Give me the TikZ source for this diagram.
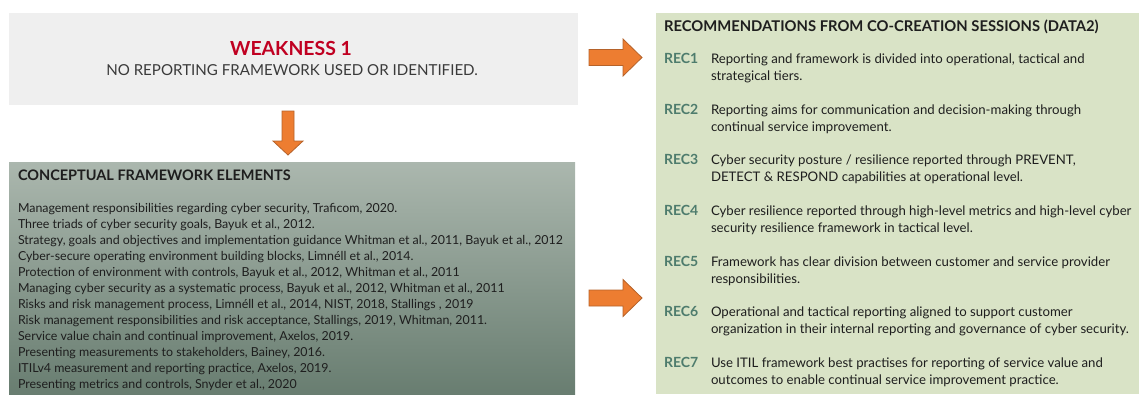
\documentclass[tikz,border=0pt]{standalone}
\usepackage{fontspec}
\setmainfont{Lato}

\definecolor{weakfill}{HTML}{EFEFEF}
\definecolor{weakred}{HTML}{C00021}
\definecolor{inktext}{HTML}{3A3A3A}
\definecolor{bodyink}{HTML}{1E1E1E}
\definecolor{arrowfill}{HTML}{ED7D31}
\definecolor{arrowedge}{HTML}{B5622A}
\definecolor{cftop}{HTML}{ABB7AE}
\definecolor{cfbot}{HTML}{687D70}
\definecolor{recfill}{HTML}{D9E3C6}
\definecolor{reclabel}{HTML}{4E7C6D}

\tikzset{
  panel/.style={anchor=north west, inner sep=0pt, outer sep=0pt, draw=none},
  txt/.style={inner sep=0pt, outer sep=0pt, text=bodyink},
  blockarrow/.style={fill=arrowfill, draw=arrowedge, line width=0.8pt, line join=miter},
  recitem/.style={txt, anchor=base west, font=\fontsize{13.2}{17}\selectfont},
  % right-pointing block arrow: tail length, shaft half width, head length, head half width
  pics/rightarrow/.style={code={
    \filldraw[blockarrow] (0,-8) -- (34,-8) -- (34,-18.5) -- (53,0) -- (34,18.5)
      -- (34,8) -- (0,8) -- cycle;}},
  pics/downarrow/.style={code={
    \filldraw[blockarrow] (-6,0) -- (-6,30) -- (-15,30) -- (0,44) -- (15,30)
      -- (6,30) -- (6,0) -- cycle;}},
}
\newcommand{\recrow}[3]{%
  \begin{tabular}[t]{@{}l@{}l@{}}
    \makebox[47pt][l]{\color{reclabel}\bfseries\fontsize{14}{17}\selectfont #1} & #2\\
     & #3
  \end{tabular}}

\begin{document}
\begin{tikzpicture}[x=1pt,y=-1pt]
\useasboundingbox (0,0) rectangle (1139,394);

% weakness panel
\node[panel, fill=weakfill, minimum width=569pt, minimum height=92pt] (weak) at (9,13) {};
\node[txt, anchor=base, text=weakred, font=\bfseries\fontsize{19.4}{22}\selectfont] (weaktitle) at (291,55) {WEAKNESS 1};
\node[txt, anchor=base, text=inktext, font=\fontsize{15.1}{18}\selectfont] (weaktext) at (292,75.5) {NO REPORTING FRAMEWORK USED OR IDENTIFIED.};

% conceptual framework panel
\node[panel, top color=cftop, bottom color=cfbot, minimum width=566pt, minimum height=233pt] (concept) at (9,162) {};
\node[txt, anchor=base west, font=\bfseries\fontsize{14.5}{17}\selectfont] (concepttitle) at (18,180.5) {CONCEPTUAL FRAMEWORK ELEMENTS};
\node[txt, anchor=base west, font=\fontsize{12.4}{16}\selectfont] (conceptlist) at (18,212) {%
  \begin{tabular}[t]{@{}l@{}}
  Management responsibilities regarding cyber security, Traficom, 2020.\\
  Three triads of cyber security goals, Bayuk et al., 2012.\\
  Strategy, goals and objectives and implementation guidance Whitman et al., 2011, Bayuk et al., 2012\\
  Cyber-secure operating environment building blocks, Limnéll et al., 2014.\\
  Protection of environment with controls, Bayuk et al., 2012, Whitman et al., 2011\\
  Managing cyber security as a systematic process, Bayuk et al., 2012, Whitman et al., 2011\\
  Risks and risk management process, Limnéll et al., 2014, NIST, 2018, Stallings , 2019\\
  Risk management responsibilities and risk acceptance, Stallings, 2019, Whitman, 2011.\\
  Service value chain and continual improvement, Axelos, 2019.\\
  Presenting measurements to stakeholders, Bainey, 2016.\\
  ITILv4 measurement and reporting practice, Axelos, 2019.\\
  Presenting metrics and controls, Snyder et al., 2020
  \end{tabular}};

% recommendations panel
\node[panel, fill=recfill, minimum width=483pt, minimum height=381pt] (recs) at (656,13) {};
\node[txt, anchor=base west, font=\bfseries\fontsize{14.8}{17}\selectfont] (rectitle) at (664,31) {RECOMMENDATIONS FROM CO-CREATION SESSIONS (DATA2)};
\node[recitem] (rec1) at (664,63.5) {\recrow{REC1}{Reporting and framework is divided into operational, tactical and}{strategical tiers.}};
\node[recitem] (rec2) at (664,114.5) {\recrow{REC2}{Reporting aims for communication and decision-making through}{continual service improvement.}};
\node[recitem] (rec3) at (664,164.5) {\recrow{REC3}{Cyber security posture / resilience reported through PREVENT,}{DETECT \& RESPOND capabilities at operational level.}};
\node[recitem] (rec4) at (664,215.5) {\recrow{REC4}{Cyber resilience reported through high-level metrics and high-level cyber}{security resilience framework in tactical level.}};
\node[recitem] (rec5) at (664,266.5) {\recrow{REC5}{Framework has clear division between customer and service provider}{responsibilities.}};
\node[recitem] (rec6) at (664,316.5) {\recrow{REC6}{Operational and tactical reporting aligned to support customer}{organization in their internal reporting and governance of cyber security.}};
\node[recitem] (rec7) at (664,367.5) {\recrow{REC7}{Use ITIL framework best practises for reporting of service value and}{outcomes to enable continual service improvement practice.}};

% block arrows between the panels
\coordinate (arrowtop) at (589,57.5);
\coordinate (arrowlow) at (589,298);
\coordinate (arrowdown) at (288,111);
\pic at (arrowtop) {rightarrow};
\pic at (arrowlow) {rightarrow};
\pic at (arrowdown) {downarrow};
\end{tikzpicture}
\end{document}
